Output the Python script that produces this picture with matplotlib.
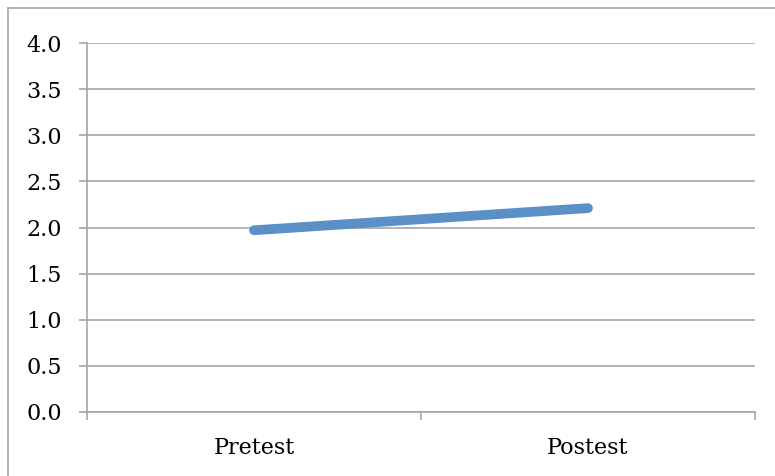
import matplotlib
matplotlib.use("Agg")
import matplotlib.pyplot as plt
from matplotlib.lines import Line2D

categories = ["Pretest", "Postest"]
scores = [1.97, 2.21]
y_ticks = [0.0, 0.5, 1.0, 1.5, 2.0, 2.5, 3.0, 3.5, 4.0]

plt.rcParams["font.family"] = ["DejaVu Serif"]
grey = "#a6a6a6"

fig = plt.figure(figsize=(7.75, 4.76), dpi=100)
ax = fig.add_axes([87 / 775, 64 / 476, (755 - 87) / 775, (433 - 64) / 476])

x = list(range(len(categories)))
ax.plot(x, scores, color="#5b8fc7", linewidth=7, solid_capstyle="round", zorder=3)

ax.set_xlim(-0.5, len(categories) - 0.5)
ax.set_ylim(0, 4)
ax.set_yticks(y_ticks)
ax.set_yticklabels([f"{v:.1f}" for v in y_ticks])
ax.yaxis.grid(True, color=grey, linewidth=1.2)
ax.set_axisbelow(True)

# category labels sit between the boundary tick marks
ax.set_xticks(x)
ax.set_xticklabels(categories)
ax.set_xticks([-0.5, 0.5, 1.5], minor=True)
ax.tick_params(axis="x", which="major", length=0, pad=18, labelsize=16)
ax.tick_params(axis="x", which="minor", length=6, width=1.2, color=grey, direction="out")
ax.tick_params(axis="y", length=6, width=1.2, color=grey, direction="out", pad=12, labelsize=16)

for side in ["top", "right"]:
    ax.spines[side].set_visible(False)
for side in ["left", "bottom"]:
    ax.spines[side].set_color(grey)
    ax.spines[side].set_linewidth(1.2)

# chart frame along the top and left edges
fig.add_artist(Line2D([8 / 775, 1], [1 - 8 / 476, 1 - 8 / 476], color=grey, linewidth=1.2))
fig.add_artist(Line2D([8 / 775, 8 / 775], [0, 1 - 8 / 476], color=grey, linewidth=1.2))

fig.savefig("out.png", dpi=100)
